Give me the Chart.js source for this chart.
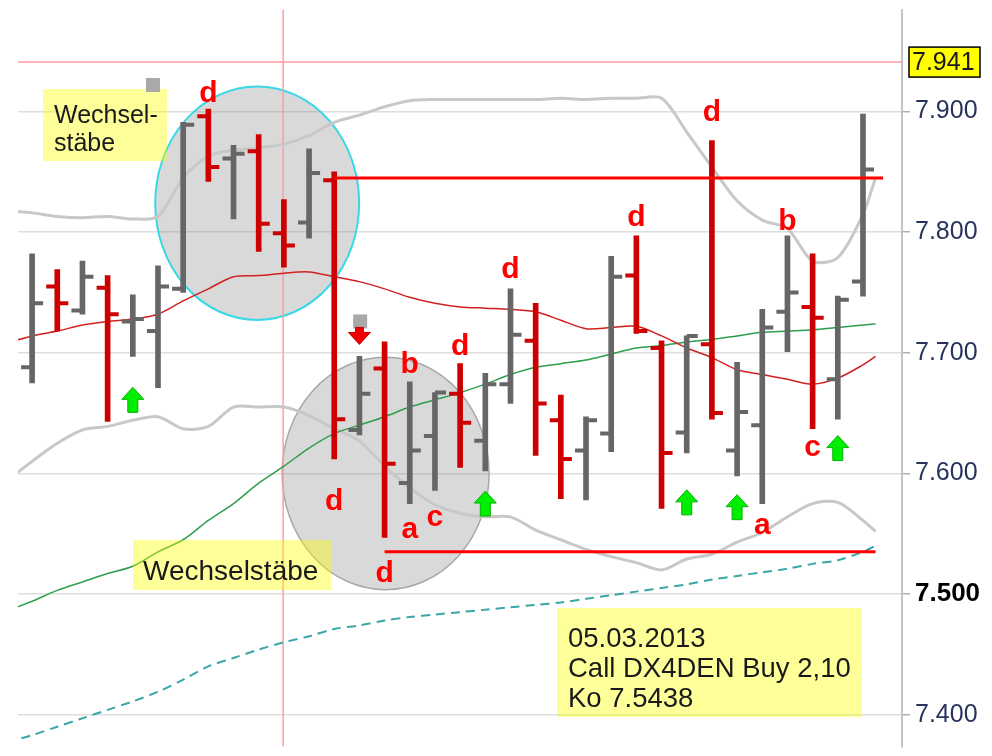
<!DOCTYPE html>
<html>
<head>
<meta charset="utf-8">
<script src="https://cdn.jsdelivr.net/npm/chart.js@4.4.1/dist/chart.umd.min.js"></script>
<style>
  html, body { margin: 0; padding: 0; background: #fff; }
  #wrap { width: 992px; height: 756px; }
</style>
</head>
<body>
<div id="wrap"><canvas id="chart" width="992" height="756"></canvas></div>
<script>
  // OHLC per bar (bar index 0..33)
  var barOpen  = [7.688, 7.755, 7.735, 7.754, 7.726, 7.718, 7.753, 7.896, 7.861, 7.867, 7.799, 7.808, 7.843, 7.636, 7.687, 7.592, 7.631,
                  7.666, 7.627, 7.674, 7.710, 7.644, 7.619, 7.633, 7.764, 7.704, 7.634, 7.707, 7.619, 7.640, 7.734, 7.738, 7.678, 7.759];
  var barHigh  = [7.782, 7.769, 7.776, 7.764, 7.748, 7.772, 7.891, 7.902, 7.872, 7.881, 7.827, 7.869, 7.850, 7.697, 7.709, 7.676, 7.667,
                  7.691, 7.683, 7.753, 7.741, 7.665, 7.647, 7.780, 7.797, 7.710, 7.714, 7.876, 7.692, 7.736, 7.797, 7.782, 7.747, 7.898];
  var barLow   = [7.675, 7.718, 7.732, 7.643, 7.697, 7.671, 7.750, 7.842, 7.811, 7.784, 7.771, 7.795, 7.612, 7.632, 7.547, 7.575, 7.586,
                  7.605, 7.602, 7.658, 7.615, 7.579, 7.578, 7.618, 7.716, 7.571, 7.617, 7.645, 7.598, 7.575, 7.701, 7.637, 7.645, 7.747];
  var barClose = [7.741, 7.741, 7.763, 7.732, 7.728, 7.755, 7.889, 7.854, 7.865, 7.807, 7.789, 7.849, 7.645, 7.666, 7.608, 7.619, 7.667,
                  7.642, 7.674, 7.715, 7.658, 7.612, 7.644, 7.763, 7.718, 7.617, 7.714, 7.650, 7.651, 7.721, 7.750, 7.729, 7.744, 7.852];

  // indicator lines, sampled at these bar positions
  var lineX = [-1, 0, 1, 2, 3, 4, 5, 6, 7, 8, 9, 10, 11, 12, 13, 14, 15, 16, 17, 18, 19, 20, 21, 22, 23, 24, 25, 26, 27, 28, 29, 30, 31, 32, 33, 33.5];
  var upperBand = [7.818, 7.816, 7.813, 7.812, 7.813, 7.811, 7.813, 7.845, 7.863, 7.868, 7.870, 7.873, 7.880, 7.891, 7.897, 7.904, 7.909, 7.910,
                   7.910, 7.910, 7.910, 7.910, 7.911, 7.910, 7.911, 7.911, 7.911, 7.883, 7.854, 7.826, 7.810, 7.803, 7.776, 7.779, 7.815, 7.845];
  var middleBand = [7.708, 7.714, 7.718, 7.723, 7.726, 7.728, 7.732, 7.743, 7.753, 7.763, 7.764, 7.766, 7.767, 7.763, 7.759, 7.753, 7.746, 7.741,
                    7.738, 7.737, 7.736, 7.734, 7.727, 7.720, 7.721, 7.722, 7.714, 7.704, 7.696, 7.686, 7.682, 7.678, 7.674, 7.679, 7.690, 7.697];
  var lowerBand = [7.594, 7.610, 7.625, 7.636, 7.639, 7.644, 7.647, 7.637, 7.639, 7.655, 7.655, 7.655, 7.648, 7.637, 7.627, 7.606, 7.588, 7.574,
                   7.567, 7.564, 7.564, 7.553, 7.545, 7.537, 7.531, 7.526, 7.520, 7.529, 7.533, 7.543, 7.551, 7.564, 7.575, 7.576, 7.561, 7.552];
  var greenAvg = [7.486, 7.494, 7.503, 7.510, 7.517, 7.523, 7.535, 7.545, 7.561, 7.575, 7.592, 7.606, 7.621, 7.633, 7.640, 7.647, 7.655, 7.661,
                  7.667, 7.674, 7.682, 7.688, 7.691, 7.694, 7.699, 7.704, 7.706, 7.709, 7.711, 7.714, 7.717, 7.718, 7.719, 7.721, 7.723, 7.724];
  var tealAvg = [7.377, 7.383, 7.390, 7.397, 7.404, 7.411, 7.419, 7.429, 7.440, 7.447, 7.454, 7.460, 7.465, 7.471, 7.474, 7.478, 7.481, 7.483,
                 7.485, 7.487, 7.489, 7.491, 7.493, 7.496, 7.499, 7.502, 7.505, 7.508, 7.512, 7.515, 7.518, 7.521, 7.525, 7.528, 7.535, 7.540];

  var yTicks = [7.4, 7.5, 7.6, 7.7, 7.8, 7.9];
  var lastPrice = 7.941;
  var resistance = 7.845;
  var support = 7.535;
  var cursorBar = 9.97;

  // markers: bar index + price
  var letters = [
    ['d', 7, 7.917], ['d', 12, 7.579], ['d', 14, 7.519], ['a', 15, 7.553], ['b', 15, 7.692], ['c', 16, 7.563], ['d', 17, 7.707],
    ['d', 19, 7.771], ['d', 24, 7.814], ['d', 27, 7.901], ['b', 30, 7.811], ['c', 31, 7.621], ['a', 29, 7.556]
  ];
  var upArrows = [[4, 7.661], [18, 7.575], [26, 7.576], [28, 7.572], [32, 7.621]];
  var downArrows = [[13, 7.714]];
  var squares = [[4.8, 7.922], [13.03, 7.726]];

  var FONT = "'Liberation Sans', Arial, sans-serif";
  var RED = '#cc0000', GRAY = '#666666';
  var barColors = barOpen.map(function (o, i) { return barClose[i] < o ? RED : GRAY; });

  function pts(xs, ys) { return xs.map(function (x, k) { return { x: x, y: ys[k] }; }); }
  function lineDs(data, color, width, order, extra) {
    var d = { type: 'line', data: data, borderColor: color, borderWidth: width, pointRadius: 0, fill: false, tension: 0.3, order: order };
    for (var k in extra) d[k] = extra[k];
    return d;
  }

  var overlay = {
    id: 'overlay',
    beforeDatasetsDraw: function (chart) {
      var ctx = chart.ctx, x = chart.scales.x, y = chart.scales.y, a = chart.chartArea;
      ctx.save();
      ctx.beginPath(); ctx.rect(a.left, a.top, a.right - a.left, a.bottom - a.top); ctx.clip();
      function ell(ci, cv, ri, rv, stroke, sw) {
        var cx = x.getPixelForValue(ci), cy = y.getPixelForValue(cv);
        var rx = x.getPixelForValue(ci + ri) - cx, ry = y.getPixelForValue(cv - rv) - cy;
        ctx.beginPath(); ctx.ellipse(cx, cy, rx, ry, 0, 0, Math.PI * 2);
        ctx.fillStyle = 'rgba(128,128,128,0.3)'; ctx.fill();
        ctx.strokeStyle = stroke; ctx.lineWidth = sw; ctx.stroke();
      }
      ell(8.94, 7.824, 4.05, 0.0968, '#3ad8e6', 2);
      ell(14.04, 7.600, 4.11, 0.0964, '#a8a8a8', 1.5);
      ctx.restore();
    },
    afterDatasetsDraw: function (chart) {
      var ctx = chart.ctx, x = chart.scales.x, y = chart.scales.y;
      ctx.save();

      // text boxes
      function box(bx, by, bw, bh, size, lines) {
        ctx.fillStyle = 'rgba(255,255,0,0.4)';
        ctx.fillRect(bx, by, bw, bh);
        ctx.fillStyle = '#1a1a1a';
        ctx.font = size + 'px ' + FONT;
        ctx.textAlign = 'left'; ctx.textBaseline = 'alphabetic';
        lines.forEach(function (l) { ctx.fillText(l[0], l[1], l[2]); });
      }
      box(43, 89, 124, 72, 25, [['Wechsel-', 54, 123], ['stäbe', 54, 151]]);
      box(133, 540, 198, 50, 28, [['Wechselstäbe', 143, 580]]);
      box(557, 608, 305, 109, 27.5, [['05.03.2013', 568, 647], ['Call DX4DEN Buy 2,10', 568, 677], ['Ko 7.5438', 568, 707]]);

      // grey squares
      ctx.fillStyle = '#a9a9a9';
      squares.forEach(function (s) {
        var cx = x.getPixelForValue(s[0]), cy = y.getPixelForValue(s[1]);
        ctx.fillRect(cx - 7, cy - 7, 14, 14);
      });

      // arrows
      upArrows.forEach(function (p) {
        var cx = x.getPixelForValue(p[0]), t = y.getPixelForValue(p[1]) - 12.5;
        ctx.beginPath();
        ctx.moveTo(cx, t); ctx.lineTo(cx + 11, t + 12); ctx.lineTo(cx + 5, t + 12); ctx.lineTo(cx + 5, t + 25);
        ctx.lineTo(cx - 5, t + 25); ctx.lineTo(cx - 5, t + 12); ctx.lineTo(cx - 11, t + 12); ctx.closePath();
        ctx.fillStyle = '#00ee00'; ctx.fill();
        ctx.strokeStyle = '#00b400'; ctx.lineWidth = 1; ctx.stroke();
      });
      downArrows.forEach(function (p) {
        var cx = x.getPixelForValue(p[0]), t = y.getPixelForValue(p[1]) - 8.5;
        ctx.beginPath();
        ctx.moveTo(cx - 4, t); ctx.lineTo(cx + 4, t); ctx.lineTo(cx + 4, t + 5); ctx.lineTo(cx + 11, t + 5);
        ctx.lineTo(cx, t + 17); ctx.lineTo(cx - 11, t + 5); ctx.lineTo(cx - 4, t + 5); ctx.closePath();
        ctx.fillStyle = '#ee0000'; ctx.fill();
        ctx.strokeStyle = '#c00000'; ctx.lineWidth = 1; ctx.stroke();
      });

      // letters
      ctx.font = 'bold 30px ' + FONT;
      ctx.textAlign = 'center'; ctx.textBaseline = 'alphabetic';
      ctx.fillStyle = '#ff0000';
      letters.forEach(function (l) {
        var cx = x.getPixelForValue(l[1]), cy = y.getPixelForValue(l[2]);
        var off = (l[0] === 'd' || l[0] === 'b') ? 11 : 8;
        ctx.fillText(l[0], cx, cy + off);
      });

      // last price badge
      var by = y.getPixelForValue(lastPrice);
      ctx.fillStyle = '#ffff00';
      ctx.fillRect(909, by - 15, 71, 30);
      ctx.strokeStyle = '#000'; ctx.lineWidth = 1.5;
      ctx.strokeRect(909, by - 15, 71, 30);
      ctx.fillStyle = '#1a1a1a';
      ctx.font = '25px ' + FONT;
      ctx.textAlign = 'left'; ctx.textBaseline = 'middle';
      ctx.fillText(lastPrice.toFixed(3), 912, by + 1);
      ctx.restore();
    }
  };

  var xMin = -0.56, xMax = 34.55, yMin = 7.3736, yMax = 7.9846;

  new Chart(document.getElementById('chart'), {
    type: 'bar',
    data: {
      datasets: [
        lineDs(pts([xMin, xMax], [lastPrice, lastPrice]), '#ff9d9d', 1.5, 30),
        lineDs(pts([cursorBar, cursorBar], [yMin, yMax]), '#ff9d9d', 1.5, 30),
        lineDs(pts(lineX, upperBand), '#c8c8c8', 3, 20),
        lineDs(pts(lineX, lowerBand), '#c8c8c8', 3, 20),
        lineDs(pts(lineX, middleBand), '#d22020', 1.5, 19),
        lineDs(pts(lineX, greenAvg), '#2e9e4e', 1.5, 19),
        lineDs(pts(lineX, tealAvg), '#3aa6a6', 2, 19, { borderDash: [9, 6] }),
        {
          type: 'bar',
          data: barLow.map(function (l, i) { return { x: i, y: [l, barHigh[i]] }; }),
          backgroundColor: barColors, barThickness: 5, order: 5
        },
        {
          type: 'scatter',
          data: barOpen.map(function (o, i) { return { x: i - 0.22, y: o }; }),
          pointStyle: 'line', pointRadius: 5.5, pointBorderWidth: 4, pointBorderColor: barColors, showLine: false, order: 4
        },
        {
          type: 'scatter',
          data: barClose.map(function (c, i) { return { x: i + 0.22, y: c }; }),
          pointStyle: 'line', pointRadius: 5.5, pointBorderWidth: 4, pointBorderColor: barColors, showLine: false, order: 4
        },
        lineDs(pts([12, 33.8], [resistance, resistance]), '#ff0000', 3, 1, { tension: 0 }),
        lineDs(pts([14, 33.5], [support, support]), '#ff0000', 3, 1, { tension: 0 })
      ]
    },
    options: {
      responsive: false,
      animation: false,
      events: [],
      layout: { padding: { left: 18, top: 5, right: 0, bottom: 0 } },
      plugins: { legend: { display: false }, tooltip: { enabled: false } },
      scales: {
        x: { type: 'linear', display: false, offset: false, min: xMin, max: xMax },
        y: {
          type: 'linear', position: 'right', min: yMin, max: yMax,
          afterBuildTicks: function (s) { s.ticks = yTicks.map(function (v) { return { value: v }; }); },
          afterFit: function (s) { s.width = 90; s.paddingTop = 0; s.paddingBottom = 0; },
          grid: { color: '#dedede', lineWidth: 1.5, tickLength: 8, tickColor: '#b0b0b0' },
          border: { display: true, color: '#c4c4c4', width: 2 },
          ticks: {
            padding: 5,
            callback: function (v) { return Number(v).toFixed(3); },
            color: function (c) { return c.tick && c.tick.value === 7.5 ? '#000000' : '#27335c'; },
            font: function (c) {
              return c.tick && c.tick.value === 7.5 ? { family: FONT, size: 26, weight: 'bold' } : { family: FONT, size: 25 };
            }
          }
        }
      }
    },
    plugins: [overlay]
  });
</script>
</body>
</html>
